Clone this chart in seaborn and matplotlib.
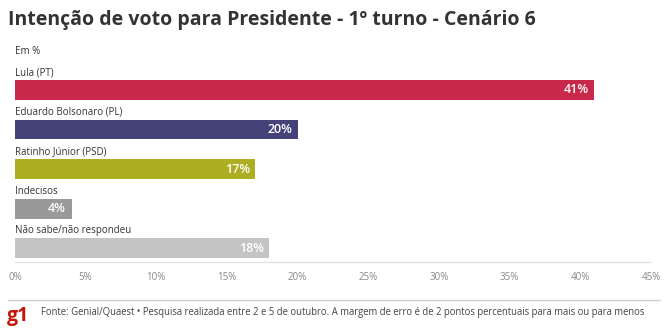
import matplotlib
matplotlib.use("Agg")
import matplotlib.pyplot as plt
import seaborn as sns
import pandas as pd
from matplotlib.lines import Line2D

categories = ["Lula (PT)", "Eduardo Bolsonaro (PL)", "Ratinho Júnior (PSD)",
              "Indecisos", "Não sabe/não respondeu"]
values = [41, 20, 17, 4, 18]
colors = ["#c8284a", "#45427a", "#aeae22", "#999999", "#c4c4c4"]
ticks = [0, 5, 10, 15, 20, 25, 30, 35, 40, 45]

title = "Intenção de voto para Presidente - 1º turno - Cenário 6"
subtitle = "Em %"
source = ("Fonte: Genial/Quaest • Pesquisa realizada entre 2 e 5 de outubro. "
          "A margem de erro é de 2 pontos percentuais para mais ou para menos")

sns.set_theme(style="white")
plt.rcParams["font.family"] = ["Open Sans", "DejaVu Sans"]

df = pd.DataFrame({"cat": categories, "val": values})

W, H = 669, 336
fig = plt.figure(figsize=(W / 100, H / 100), dpi=100)
ax_left, ax_right, ax_top, ax_bottom = 15, 651, 70, 262
ax = fig.add_axes([ax_left / W, 1 - ax_bottom / H,
                   (ax_right - ax_left) / W, (ax_bottom - ax_top) / H])

sns.barplot(data=df, x="val", y="cat", hue="cat", palette=colors,
            orient="h", width=0.506, legend=False, ax=ax, saturation=1,
            linewidth=0, edgecolor="none")

ax.set_xlim(0, 45)
ax.set_ylim(4.354, -0.506)
ax.set_xticks(ticks)
ax.set_xticklabels([f"{t}%" for t in ticks])
ax.set_yticks([])
ax.set_xlabel("")
ax.set_ylabel("")
for s in ["top", "right", "left"]:
    ax.spines[s].set_visible(False)
ax.spines["bottom"].set_color("#e3e3e3")
ax.spines["bottom"].set_linewidth(1)
ax.tick_params(axis="x", length=4, width=1, color="#e3e3e3",
               labelsize=7, labelcolor="#888888", pad=3)

for i, (cat, v) in enumerate(zip(categories, values)):
    ax.text(0, i - 0.253 - 0.05, cat, ha="left", va="bottom",
            fontsize=7, color="#333333", clip_on=False)
    ax.annotate(f"{v}%", xy=(v, i), xytext=(-4, 0), textcoords="offset points",
                ha="right", va="center", fontsize=9, color="white",
                fontweight="semibold")

fig.text(8 / W, 1 - 20 / H, title, ha="left", va="center",
         fontsize=14, fontweight="bold", color="#333333")
fig.text(15 / W, 1 - 52 / H, subtitle, ha="left", va="center",
         fontsize=7, color="#333333")

fig.add_artist(Line2D([8 / W, 660 / W], [1 - 300 / H, 1 - 300 / H],
                      color="#cccccc", linewidth=1, transform=fig.transFigure))
fig.text(7 / W, 1 - 316 / H, "g1", ha="left", va="center",
         fontsize=14, fontweight="bold", color="#c4170c")
fig.text(41 / W, 1 - 313 / H, source, ha="left", va="center",
         fontsize=6.85, color="#444444")

fig.savefig("out.png", dpi=100, facecolor="white")
